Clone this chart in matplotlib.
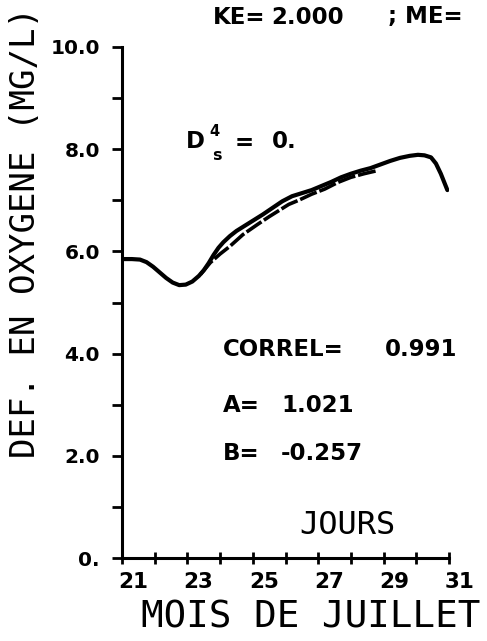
import matplotlib
matplotlib.use("Agg")
import matplotlib.pyplot as plt
from matplotlib.font_manager import FontProperties
from matplotlib.ticker import FixedLocator, FixedFormatter
from matplotlib.transforms import ScaledTranslation

# Observed oxygen deficit (solid) and simulated deficit (dashed), July days
obs_day = [21.0, 21.3, 21.55, 21.75, 21.95, 22.15, 22.35, 22.55, 22.75, 22.95,
           23.15, 23.35, 23.5, 23.65, 23.8, 23.95, 24.1, 24.3, 24.5, 24.75,
           25.0, 25.3, 25.6, 25.9, 26.2, 26.5, 26.8, 27.1, 27.4, 27.7, 28.0,
           28.3, 28.6, 28.9, 29.2, 29.5, 29.8, 30.05, 30.25, 30.45, 30.6,
           30.75, 30.95]
obs_def = [5.85, 5.85, 5.84, 5.79, 5.70, 5.59, 5.48, 5.39, 5.34, 5.35,
           5.41, 5.52, 5.63, 5.77, 5.93, 6.07, 6.18, 6.30, 6.40, 6.50,
           6.60, 6.72, 6.85, 6.98, 7.08, 7.14, 7.20, 7.28, 7.36, 7.45, 7.52,
           7.58, 7.63, 7.70, 7.77, 7.83, 7.87, 7.89, 7.88, 7.84, 7.72,
           7.52, 7.20]
sim_day = [23.4, 23.7, 24.0, 24.3, 24.7, 25.15, 25.5, 25.8, 26.1, 26.4, 26.8,
           27.2, 27.6, 28.0, 28.4, 28.8]
sim_def = [5.55, 5.78, 5.95, 6.10, 6.33, 6.53, 6.68, 6.80, 6.92, 7.00, 7.12,
           7.22, 7.35, 7.45, 7.52, 7.58]

y_major = [0, 2, 4, 6, 8, 10]
y_labels = ["0.", "2.0", "4.0", "6.0", "8.0", "10.0"]
y_minor = [1, 3, 5, 7, 9]
x_major = [21, 23, 25, 27, 29, 31]
x_labels = ["21", "23", "25", "27", "29", "31"]
x_minor = [22, 24, 26, 28, 30]

W, H = 487, 641
fig = plt.figure(figsize=(W / 100, H / 100), dpi=100)
fig.patch.set_facecolor("white")


def fx(px):
    return px / W


def fy(py):
    return 1 - py / H


ax = fig.add_axes([fx(122), fy(558), fx(449) - fx(122), fy(47) - fy(558)])
ax.set_xlim(21, 31)
ax.set_ylim(0, 10)
ax.patch.set_alpha(0)

for s in ("top", "right"):
    ax.spines[s].set_visible(False)
for s in ("left", "bottom"):
    ax.spines[s].set_linewidth(2.2)
    ax.spines[s].set_color("black")

ax.plot(obs_day, obs_def, color="black", lw=3.0, solid_capstyle="round",
        solid_joinstyle="round")
ax.plot(sim_day, sim_def, color="black", lw=2.6, linestyle=(0, (5, 0.8)))

ytick_font = FontProperties(family="DejaVu Sans", weight="bold", size=14.5)
xtick_font = FontProperties(family="DejaVu Sans", weight="bold", size=15.5)

ax.yaxis.set_major_locator(FixedLocator(y_major))
ax.yaxis.set_major_formatter(FixedFormatter(y_labels))
ax.yaxis.set_minor_locator(FixedLocator(y_minor))
ax.tick_params(axis="y", which="both", direction="out", length=7, width=2.0,
               pad=9)
for lab in ax.get_yticklabels():
    lab.set_fontproperties(ytick_font)

ax.xaxis.set_major_locator(FixedLocator(x_major))
ax.xaxis.set_major_formatter(FixedFormatter(x_labels))
ax.xaxis.set_minor_locator(FixedLocator(x_minor))
ax.tick_params(axis="x", which="both", direction="inout", length=8, width=2.0,
               pad=6)
shift = ScaledTranslation(-4 / 100, 0, fig.dpi_scale_trans)
for lab in ax.get_xticklabels():
    lab.set_fontproperties(xtick_font)
    lab.set_horizontalalignment("left")
    lab.set_transform(lab.get_transform() + shift)

# Axis titles
mono = "DejaVu Sans Mono"
fig.text(fx(26), fy(233), "DEF. EN OXYGENE (MG/L)", rotation=90,
         family=mono, size=24.5, ha="center", va="center")
fig.text(fx(311), fy(617), "MOIS DE JUILLET", family=mono, size=27,
         ha="center", va="center")
fig.text(fx(347), fy(526), "JOURS", family=mono, size=23,
         ha="center", va="center")

# Run parameters and fit statistics
fs = 16.5
bold = dict(family="DejaVu Sans", weight="bold", color="black", va="center")
fig.text(fx(213), fy(17), "KE=", size=fs, ha="left", **bold)
fig.text(fx(308), fy(17), "2.000", size=fs, ha="center", **bold)
fig.text(fx(388), fy(17), "; ME=", size=fs, ha="left", **bold)

fig.text(fx(186), fy(142), "D", size=fs, ha="left", **bold)
fig.text(fx(209), fy(132), "4", size=10.5, ha="left", **bold)
fig.text(fx(212), fy(156), "s", size=11.5, ha="left", **bold)
fig.text(fx(235), fy(142), "=", size=fs, ha="left", **bold)
fig.text(fx(284), fy(142), "0.", size=fs, ha="center", **bold)

fig.text(fx(223), fy(350), "CORREL=", size=fs, ha="left", **bold)
fig.text(fx(421), fy(350), "0.991", size=fs, ha="center", **bold)
fig.text(fx(223), fy(405), "A=", size=fs, ha="left", **bold)
fig.text(fx(318), fy(405), "1.021", size=fs, ha="center", **bold)
fig.text(fx(223), fy(454), "B=", size=fs, ha="left", **bold)
fig.text(fx(322), fy(454), "-0.257", size=fs, ha="center", **bold)

fig.savefig("out.png", dpi=100)
